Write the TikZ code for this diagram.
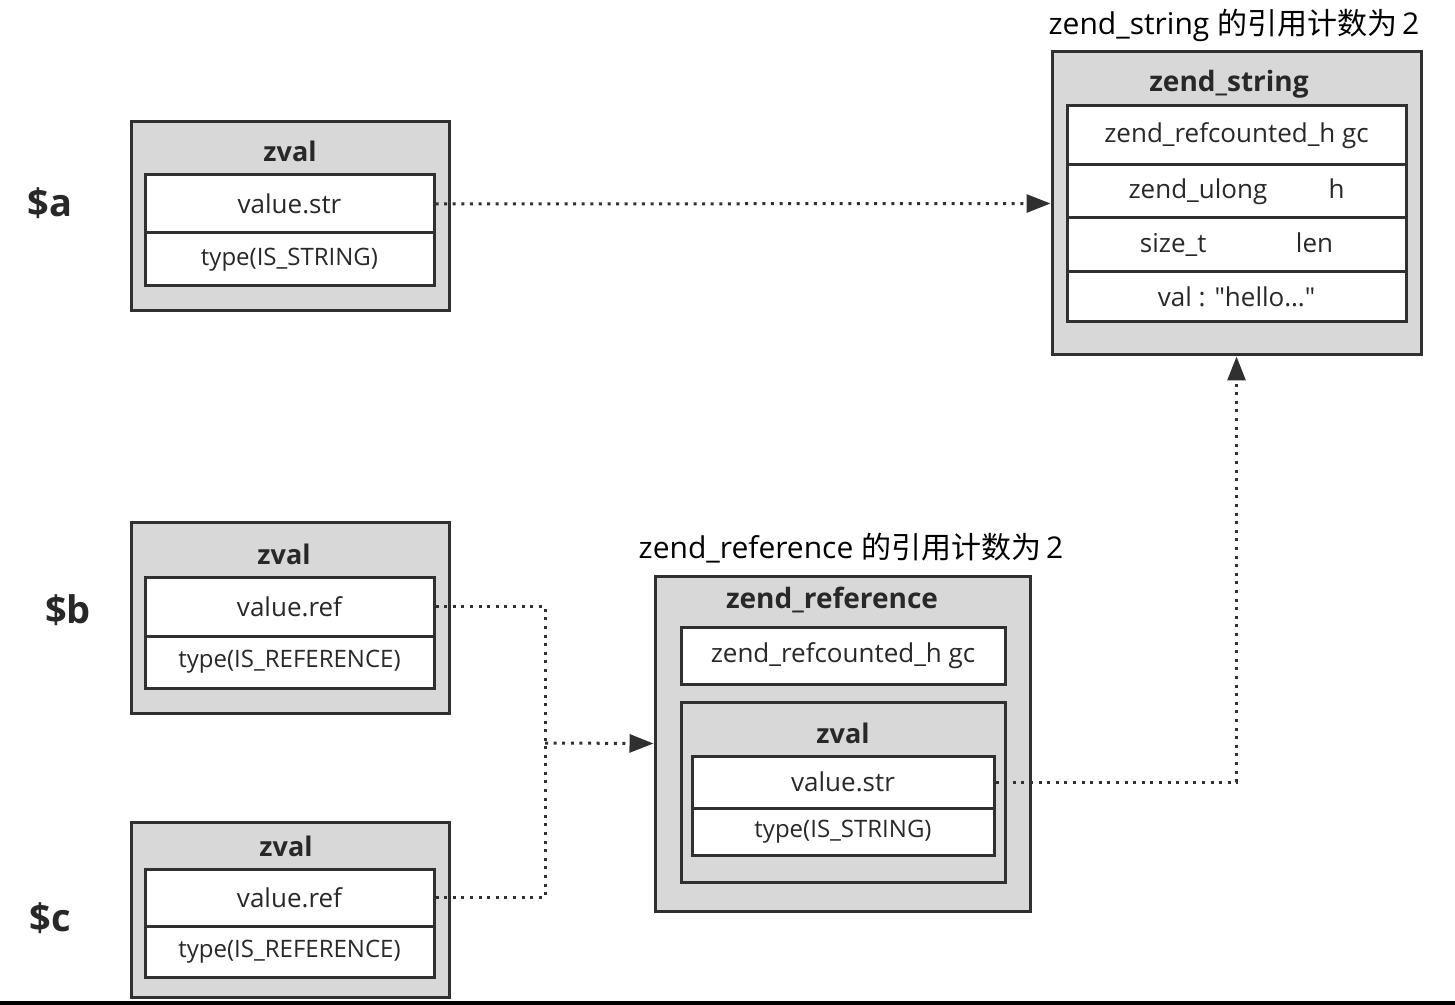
\documentclass[tikz,border=0pt]{standalone}
\usepackage{xcolor}
\usepackage{fontspec}
\setmainfont{Open Sans}
\newfontfamily\cjk{Noto Sans CJK SC}
\usepackage{tikz}
\usetikzlibrary{shapes,fit,calc,positioning,arrows.meta}
\definecolor{boxgray}{RGB}{216,216,216}
\definecolor{linegray}{RGB}{48,48,48}
\definecolor{textgray}{RGB}{40,40,40}

\begin{document}
\begin{tikzpicture}[x=0.5pt,y=-0.5pt,
		outer/.style={draw=linegray,line width=1.5pt,fill=boxgray,inner sep=0pt},
		cell/.style={draw=linegray,line width=1.5pt,fill=white,inner sep=0pt},
		celltext/.style={text=textgray,font=\fontsize{13}{15}\selectfont},
		typetext/.style={text=textgray,font=\fontsize{12}{14}\selectfont},
		head/.style={text=textgray,font=\fontsize{13.5}{15}\selectfont\bfseries},
		var/.style={text=textgray,font=\fontsize{19}{21}\selectfont\bfseries},
		title/.style={text=black,font=\fontsize{15}{17}\selectfont},
		conn/.style={draw=linegray,line width=1.5pt,dash pattern=on 1.5pt off 2.8pt},
		tip/.style={-{Triangle[length=12pt,width=9pt]}}]
\useasboundingbox (0,0) rectangle (1455,1005);

% $a
\node[var] (va) at (50,203) {\$a};
\node[outer,fit={(131,122)(449,311)}] (za) {};
\node[head] (zahead) at (290,151) {zval};
\node[cell,fit={(145,175)(434,233)},label={[celltext]center:value.str}] (aval) {};
\node[cell,fit={(145,233)(434,286)},label={[typetext]center:type(IS\_STRING)}] (atype) {};

% $b
\node[var] (vb) at (68,610) {\$b};
\node[outer,fit={(131,522)(449,713)}] (zb) {};
\node[head] (zbhead) at (284,554) {zval};
\node[cell,fit={(145,577)(434,636)},label={[celltext]center:value.ref}] (bval) {};
\node[cell,fit={(145,636)(434,688)},label={[typetext]center:type(IS\_REFERENCE)}] (btype) {};

% $c
\node[var] (vc) at (50,918) {\$c};
\node[outer,fit={(131,822)(449,997)}] (zc) {};
\node[head] (zchead) at (286,846) {zval};
\node[cell,fit={(145,869)(434,926)},label={[celltext]center:value.ref}] (cval) {};
\node[cell,fit={(145,926)(434,977)},label={[typetext]center:type(IS\_REFERENCE)}] (ctype) {};

% zend_string
\node[title] (zstitle) at (1234,25) {zend\_string {\cjk 的引用计数为}\,2};
\node[outer,fit={(1052,52)(1421,355)}] (zs) {};
\node[head,font=\fontsize{14}{16}\selectfont\bfseries] (zshead) at (1229,84) {zend\_string};
\node[cell,fit={(1067,106)(1406,165)},label={[celltext]center:zend\_refcounted\_h gc}] (zsgc) {};
\node[cell,fit={(1067,165)(1406,218)},label={[celltext]center:\makebox[100pt][l]{zend\_ulong}h}] (zsh) {};
\node[cell,fit={(1067,218)(1406,272)},label={[celltext]center:\makebox[78pt][l]{size\_t}len}] (zslen) {};
\node[cell,fit={(1067,272)(1406,322)},label={[celltext]center:val : \textquotedbl hello…\textquotedbl}] (zsval) {};

% zend_reference
\node[title] (zrtitle) at (851,548) {zend\_reference {\cjk 的引用计数为}\,2};
\node[outer,fit={(655,576)(1030,911)}] (zr) {};
\node[head,font=\fontsize{14}{16}\selectfont\bfseries] (zrhead) at (832,600) {zend\_reference};
\node[cell,fit={(681,627)(1005,684)},label={[celltext]center:zend\_refcounted\_h gc}] (zrgc) {};
\node[outer,fit={(681,702)(1005,882)}] (zrz) {};
\node[head] (zrzhead) at (843,733) {zval};
\node[cell,fit={(692,756)(994,808)},label={[celltext]center:value.str}] (rval) {};
\node[cell,fit={(692,808)(994,855)},label={[typetext]center:type(IS\_STRING)}] (rtype) {};

\coordinate (join) at (545,743);
\draw[conn,tip] (aval.east) -- (zs.west);
\draw[conn] (bval.east) -| (join);
\draw[conn] (cval.east) -| (join);
\draw[conn,tip] (join) -- (zr.west);
\draw[conn,tip] (rval.east) -| (zs.south);

\draw[line width=2pt] (0,1003) -- (1455,1003);

\end{tikzpicture}
\end{document}
